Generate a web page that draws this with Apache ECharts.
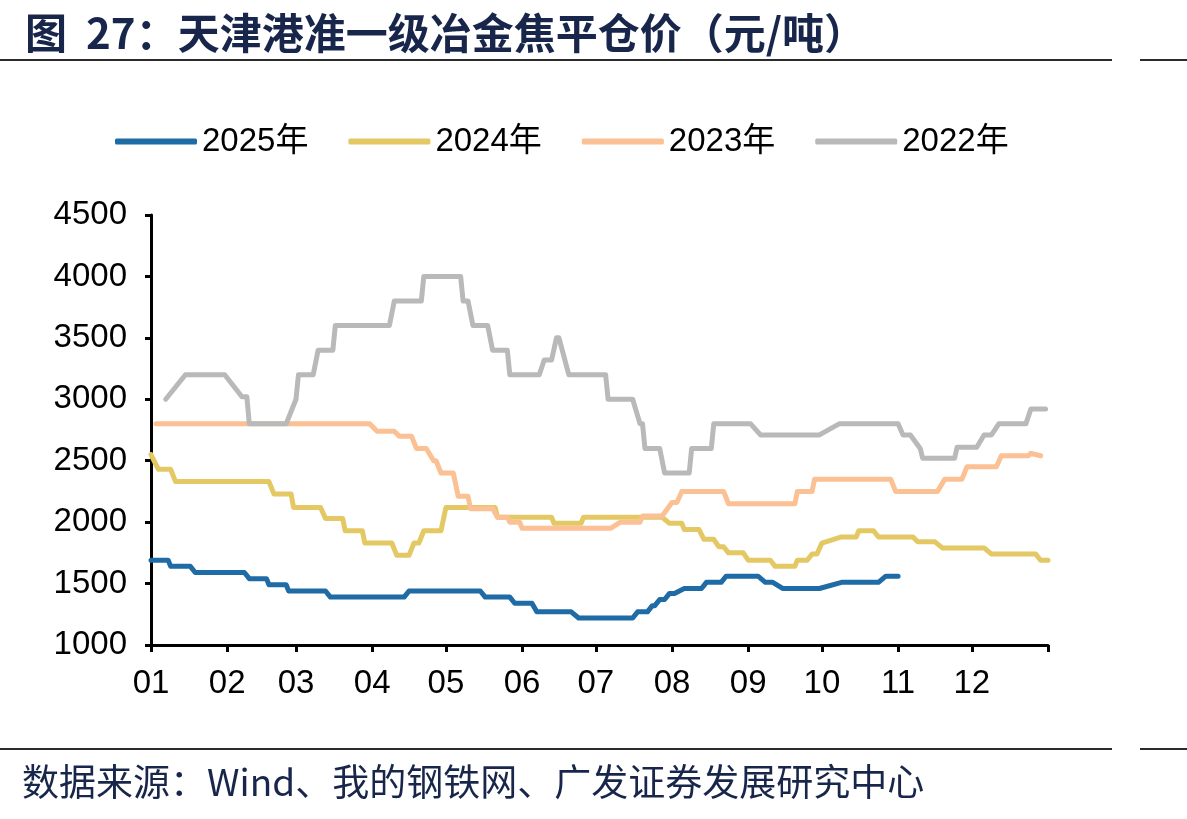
<!DOCTYPE html>
<html>
<head>
<meta charset="utf-8">
<title>天津港准一级冶金焦平仓价</title>
<script src="https://cdn.jsdelivr.net/npm/echarts@6/dist/echarts.min.js"></script>
<style>
    html, body { margin: 0; padding: 0; background: #ffffff; }
    #cokePrice { width: 1187px; height: 819px; }
</style>
</head>
<body>
<div id="cokePrice"></div>
<script>
// 图例（年份）
var years = ['2025年', '2024年', '2023年', '2022年'];

// 每月1日对应的年内天数（非闰年），最后一个为年末
var monthStartDays = [0, 31, 59, 90, 120, 151, 181, 212, 243, 273, 304, 334, 365];
var monthLabels = ['01', '02', '03', '04', '05', '06', '07', '08', '09', '10', '11', '12'];

// 纵轴范围（元/吨）
var yMin = 1000, yMax = 4500, yStep = 500;

// 2025年：调价日（年内天数）与价格
var days2025 = [0, 7, 8, 16, 18, 38, 40, 47, 48, 55, 56, 71, 73, 103, 105, 134, 136, 146, 148, 155, 157, 171, 174, 196, 198, 202, 204, 205, 207, 209, 211, 213, 217, 224, 226, 232, 234, 247, 250, 253, 257, 272, 281, 296, 299, 304];
var price2025 = [1690, 1690, 1640, 1640, 1590, 1590, 1540, 1540, 1490, 1490, 1440, 1440, 1390, 1390, 1440, 1440, 1390, 1390, 1340, 1340, 1270, 1270, 1220, 1220, 1270, 1270, 1320, 1320, 1370, 1370, 1420, 1420, 1460, 1460, 1510, 1510, 1560, 1560, 1510, 1510, 1460, 1460, 1510, 1510, 1560, 1560];

// 2024年
var days2024 = [0, 3, 8, 10, 48, 50, 57, 58, 69, 71, 78, 79, 86, 87, 98, 100, 105, 107, 109, 111, 118, 120, 140, 141, 163, 164, 175, 176, 208, 211, 216, 217, 223, 225, 229, 231, 233, 235, 241, 243, 252, 254, 262, 263, 267, 269, 271, 273, 281, 287, 288, 294, 296, 310, 312, 319, 322, 339, 342, 360, 362, 365];
var price2024 = [2550, 2430, 2430, 2330, 2330, 2230, 2230, 2120, 2120, 2030, 2030, 1930, 1930, 1830, 1830, 1730, 1730, 1830, 1830, 1930, 1930, 2120, 2120, 2040, 2040, 1990, 1990, 2040, 2040, 1990, 1990, 1940, 1940, 1860, 1860, 1800, 1800, 1750, 1750, 1690, 1690, 1640, 1640, 1690, 1690, 1740, 1740, 1830, 1880, 1880, 1930, 1930, 1880, 1880, 1840, 1840, 1790, 1790, 1740, 1740, 1690, 1690];

// 2023年
var days2023 = [2, 89, 92, 99, 101, 106, 108, 112, 115, 116, 118, 123, 125, 129, 130, 139, 141, 145, 146, 150, 151, 187, 191, 199, 200, 208, 212, 214, 216, 233, 235, 262, 263, 269, 270, 301, 303, 320, 323, 330, 332, 344, 346, 357, 358, 362];
var price2023 = [2800, 2800, 2740, 2740, 2700, 2700, 2600, 2600, 2500, 2500, 2400, 2400, 2210, 2210, 2110, 2110, 2040, 2040, 2000, 2000, 1950, 1950, 2000, 2000, 2050, 2050, 2160, 2160, 2250, 2250, 2150, 2150, 2250, 2250, 2350, 2350, 2250, 2250, 2350, 2350, 2450, 2450, 2540, 2540, 2560, 2540];

// 2022年
var days2022 = [6, 14, 30, 37, 39, 40, 55, 59, 60, 66, 68, 74, 75, 97, 99, 110, 111, 126, 127, 129, 131, 137, 139, 145, 146, 158, 160, 163, 165, 166, 170, 185, 186, 196, 199, 200, 201, 207, 209, 219, 220, 228, 229, 244, 248, 272, 280, 304, 306, 309, 313, 314, 327, 328, 336, 339, 342, 345, 356, 358, 364];
var price2022 = [3000, 3200, 3200, 3020, 3020, 2800, 2800, 3000, 3200, 3200, 3400, 3400, 3600, 3600, 3800, 3800, 4000, 4000, 3800, 3800, 3600, 3600, 3400, 3400, 3200, 3200, 3320, 3320, 3500, 3500, 3200, 3200, 3000, 3000, 2800, 2800, 2600, 2600, 2400, 2400, 2600, 2600, 2800, 2800, 2710, 2710, 2800, 2800, 2710, 2710, 2600, 2520, 2520, 2610, 2610, 2710, 2710, 2800, 2800, 2920, 2920];

var CokeChart = {
    fontNum: '"Liberation Sans", Arial, "Noto Sans CJK SC", sans-serif',
    fontCn: '"Noto Sans CJK SC", "Liberation Sans", sans-serif',

    init: function () {
        var myChart = echarts.init(document.getElementById('cokePrice'));
        myChart.setOption(CokeChart.getOption());
    },
    // 天数与价格拼成 [x, y]
    pair: function (days, prices) {
        return days.map(function (d, i) {
            return [d, prices[i]];
        });
    },
    line: function (name, days, prices, color) {
        return {
            name: name,
            type: 'line',
            data: CokeChart.pair(days, prices),
            showSymbol: false,
            symbol: 'none',
            animation: false,
            lineStyle: { width: 5, color: color, cap: 'round', join: 'round' },
            itemStyle: { color: color }
        };
    },
    getOption: function () {
        var axisColor = '#000000';
        return {
            animation: false,
            backgroundColor: '#ffffff',
            title: {
                text: '图  27：天津港准一级冶金焦平仓价（元/吨）',
                left: 20,
                top: 7,
                textStyle: {
                    fontSize: 42,
                    fontWeight: 'bold',
                    color: '#17264a',
                    fontFamily: CokeChart.fontCn
                }
            },
            legend: {
                data: years,
                left: 110,
                top: 120,
                itemWidth: 82,
                itemHeight: 6,
                itemGap: 40,
                icon: 'roundRect',
                textStyle: {
                    fontSize: 33,
                    color: '#000000',
                    fontFamily: CokeChart.fontNum
                }
            },
            grid: {
                left: 151,
                right: 139,
                top: 215,
                bottom: 174,
                containLabel: false
            },
            xAxis: {
                type: 'value',
                min: monthStartDays[0],
                max: monthStartDays[monthStartDays.length - 1],
                axisLine: { show: true, lineStyle: { color: axisColor, width: 3 } },
                axisTick: {
                    show: true,
                    customValues: monthStartDays,
                    length: 7,
                    lineStyle: { color: axisColor, width: 3 }
                },
                axisLabel: {
                    customValues: monthStartDays.slice(0, 12),
                    formatter: function (v) {
                        var i = monthStartDays.indexOf(v);
                        return i >= 0 && i < monthLabels.length ? monthLabels[i] : '';
                    },
                    fontSize: 33,
                    color: '#000000',
                    margin: 22,
                    fontFamily: CokeChart.fontNum
                },
                splitLine: { show: false }
            },
            yAxis: {
                type: 'value',
                min: yMin,
                max: yMax,
                interval: yStep,
                axisLine: { show: true, lineStyle: { color: axisColor, width: 3 } },
                axisTick: { show: true, length: 6, lineStyle: { color: axisColor, width: 3 } },
                axisLabel: {
                    formatter: function (v) {
                        return String(v);
                    },
                    fontSize: 33,
                    color: '#000000',
                    margin: 24,
                    fontFamily: CokeChart.fontNum
                },
                splitLine: { show: false }
            },
            series: [
                CokeChart.line(years[0], days2025, price2025, '#1f6ba5'),
                CokeChart.line(years[1], days2024, price2024, '#e3c864'),
                CokeChart.line(years[2], days2023, price2023, '#fbc093'),
                CokeChart.line(years[3], days2022, price2022, '#b9b9b9')
            ],
            graphic: [
                // 标题下横线
                { type: 'line', shape: { x1: 0, y1: 60, x2: 1112, y2: 60 }, style: { stroke: '#2b2b2b', lineWidth: 2 } },
                { type: 'line', shape: { x1: 1140, y1: 60, x2: 1187, y2: 60 }, style: { stroke: '#2b2b2b', lineWidth: 2 } },
                // 来源上横线
                { type: 'line', shape: { x1: 0, y1: 749, x2: 1112, y2: 749 }, style: { stroke: '#2b2b2b', lineWidth: 2 } },
                { type: 'line', shape: { x1: 1140, y1: 749, x2: 1187, y2: 749 }, style: { stroke: '#2b2b2b', lineWidth: 2 } },
                {
                    type: 'text',
                    left: 22,
                    top: 763,
                    style: {
                        text: '数据来源：Wind、我的钢铁网、广发证券发展研究中心',
                        fontSize: 37,
                        fill: '#17264a',
                        fontFamily: CokeChart.fontCn
                    }
                }
            ]
        };
    }
};

CokeChart.init();
</script>
</body>
</html>
